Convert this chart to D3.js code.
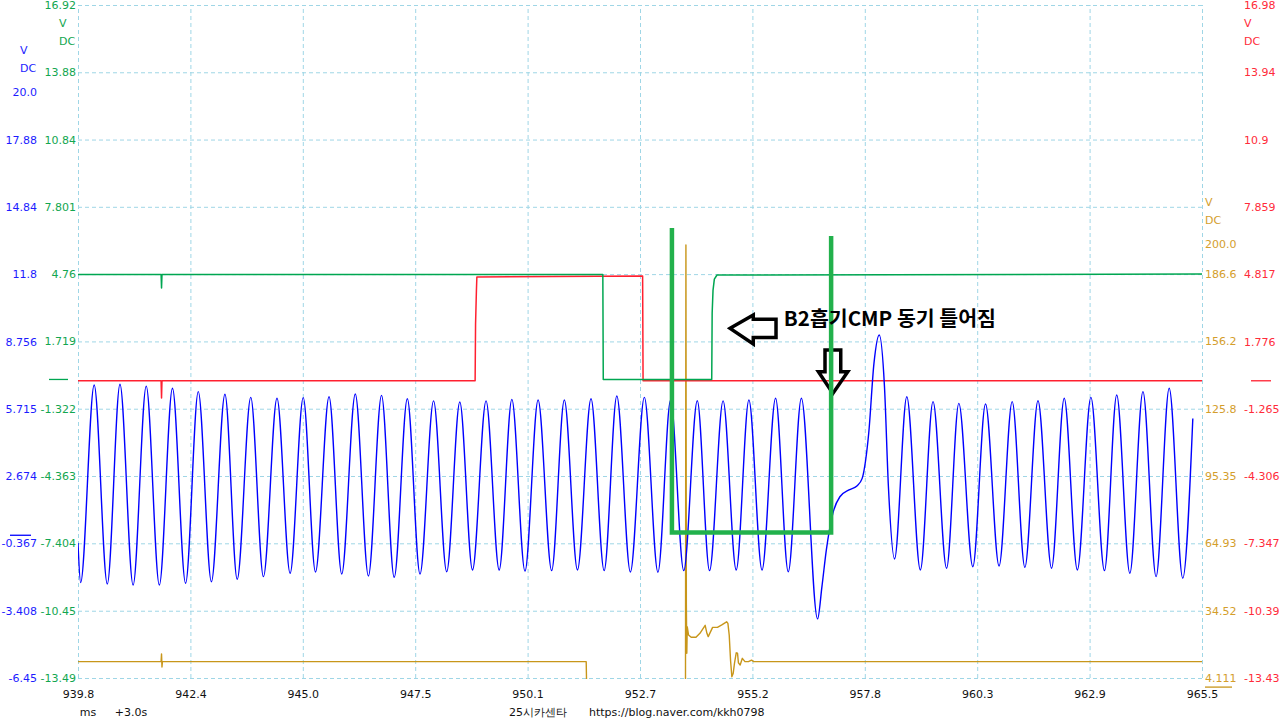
<!DOCTYPE html>
<html><head><meta charset="utf-8">
<script src="https://cdn.jsdelivr.net/npm/d3@7"></script>
<style>
html,body{margin:0;padding:0;background:#fff;}
svg{display:block;}
</style></head><body>
<svg id="c" width="1280" height="720"></svg>
<script>
// ---------------- data ----------------
const timeDomain = [939.8, 965.5];
const timeTicks = ["939.8","942.4","945.0","947.5","950.1","952.7","955.2","957.8","960.3","962.9","965.5"];

const blueDomain = [-6.45, 23.96];
const blueTicks = ["-6.45","-3.408","-0.367","2.674","5.715","8.756","11.8","14.84","17.88"];
const greenDomain = [-13.49, 16.92];
const greenTicks = ["-13.49","-10.45","-7.404","-4.363","-1.322","1.719","4.76","7.801","10.84","13.88","16.92"];
const redDomain = [-13.43, 16.98];
const redTicks = ["-13.43","-10.39","-7.347","-4.306","-1.265","1.776","4.817","7.859","10.9","13.94","16.98"];
const goldDomain = [4.111, 308.2];
const goldTicks = ["4.111","34.52","64.93","95.35","125.8","156.2","186.6"];

// blue channel (V) : time (ms) / value
const blueT = [939.80,939.86,940.17,940.47,940.76,941.06,941.36,941.66,941.96,942.26,942.55,942.85,943.16,943.44,943.75,944.04,944.35,944.65,944.95,945.23,945.54,945.83,946.14,946.44,946.74,947.03,947.33,947.62,947.93,948.23,948.53,948.82,949.13,949.43,949.72,950.02,950.32,950.63,950.92,951.22,951.53,951.83,952.12,952.43,952.75,953.06,953.35,953.65,953.96,954.24,954.55,954.85,955.14,955.44,955.75,956.04,956.34,956.71,956.81,956.91,957.06,957.22,957.43,957.61,957.73,957.81,957.88,958.00,958.12,958.24,958.33,958.47,958.75,959.06,959.35,959.66,959.94,960.26,960.55,960.86,961.16,961.45,961.75,962.06,962.35,962.65,962.96,963.27,963.55,963.85,964.15,964.45,964.75,965.06,965.29];
const blueV = [-0.35,-2.14,6.79,-2.20,6.82,-2.25,6.74,-2.25,6.64,-2.17,6.49,-2.10,6.37,-1.99,6.23,-1.87,6.19,-1.72,6.22,-1.66,6.26,-1.75,6.38,-1.84,6.32,-1.90,6.17,-1.75,6.07,-1.65,6.02,-1.57,6.07,-1.57,6.14,-1.62,6.11,-1.60,6.11,-1.57,6.17,-1.60,6.29,-1.66,6.23,-1.67,6.11,-1.60,6.08,-1.60,6.07,-1.57,6.11,-1.57,6.19,-1.65,6.19,-3.78,-2.32,-0.67,0.99,1.74,2.05,2.23,2.57,3.40,4.62,7.78,9.05,6.71,2.19,-1.07,6.26,-1.57,6.04,-1.49,5.96,-1.42,5.93,-1.39,6.04,-1.45,6.08,-1.49,6.19,-1.57,6.23,-1.60,6.34,-1.72,6.49,-1.87,6.64,-1.94,5.28];

// green channel (V)
const greenT = [939.80,941.70,941.71,941.72,951.80,951.81,954.29,954.30,954.32,954.35,954.41,965.50];
const greenV = [4.74,4.74,4.13,4.74,4.74,0.0,0.0,3.00,4.04,4.53,4.72,4.76];

// red channel (V)
const redT = [939.80,941.70,941.71,941.72,948.88,948.89,948.91,948.92,952.71,952.72,965.50];
const redV = [0.0,0.0,-0.78,0.0,0.0,2.57,4.10,4.69,4.73,0.0,0.0];

// gold channel (V)
const goldT = [939.80,941.70,941.71,941.72,941.73,951.42,951.43,953.69,953.70,953.71,953.72,953.73,953.76,953.82,953.93,954.02,954.14,954.18,954.21,954.31,954.42,954.52,954.63,954.66,954.69,954.72,954.75,954.78,954.81,954.85,954.88,954.90,954.94,954.99,955.05,955.13,955.20,955.25,965.50];
const goldV = [11.5,11.5,15.0,9.1,11.5,11.5,0.0,0.0,199.8,37.1,15.3,27.3,23.5,22.5,22.5,24.3,27.9,24.3,22.8,27.0,27.0,28.1,29.5,28.8,23.5,12.2,4.7,6.1,10.7,15.5,15.3,11.0,10.0,13.0,11.5,11.5,12.2,11.5,11.5];

// hand-drawn annotation (time ms / blue-axis V)
const bracketT = [953.38,953.38,957.02,957.02];
const bracketV = [13.88,0.12,0.12,13.52];
const leftArrowT = [954.71,955.24,955.24,955.76,955.76,955.24,955.24];
const leftArrowV = [9.35,9.95,9.76,9.76,8.94,8.94,8.64];
const downArrowT = [956.88,957.24,957.24,957.40,957.06,956.73,956.88];
const downArrowV = [8.37,8.37,7.39,7.39,6.41,7.39,7.39];
const noteText = "B2흡기CMP 동기 틀어짐";
const noteAt = [955.94, 9.46];

// ---------------- drawing ----------------
const L = 78, R = 1202, T = 5, B = 678;
const svg = d3.select("#c");
const FONT = "DejaVu Sans, sans-serif";
const C = {blue:"#1c1cff", green:"#12a650", red:"#ff2b3a", gold:"#d49e2c",
           blueL:"#0000ff", greenL:"#00a651", redL:"#ff2030", goldL:"#c8961a", grid:"#9fd6e6"};

const x = d3.scaleLinear().domain(timeDomain).range([L, R]);
const yBlue = d3.scaleLinear().domain(blueDomain).range([B, T]);
const yGreen = d3.scaleLinear().domain(greenDomain).range([B, T]);
const yRed = d3.scaleLinear().domain(redDomain).range([B, T]);
const yGold = d3.scaleLinear().domain(goldDomain).range([B, T]);

svg.append("rect").attr("width",1280).attr("height",720).attr("fill","#fff");

// grid
const xTickVals = timeTicks.map((d,i)=> timeDomain[0] + i*(timeDomain[1]-timeDomain[0])/(timeTicks.length-1));
const gx = svg.append("g").attr("transform",`translate(0,${B})`)
  .call(d3.axisBottom(x).tickValues(xTickVals).tickSize(-(B-T)).tickFormat(""));
gx.select(".domain").remove();
gx.selectAll("line").attr("stroke",C.grid).attr("stroke-dasharray","4,3");

const gy = svg.append("g").attr("transform",`translate(${L},0)`)
  .call(d3.axisLeft(yGreen).tickValues(greenTicks.map(Number)).tickSize(-(R-L)).tickFormat(""));
gy.select(".domain").remove();
gy.selectAll("line").attr("stroke",C.grid).attr("stroke-dasharray","4,3");

// axes labels
function styleAxis(g, color){
  g.select(".domain").remove();
  g.selectAll("line").remove();
  g.attr("font-family", FONT).attr("font-size", 11);
  g.selectAll("text").attr("fill", color);
}
styleAxis(svg.append("g").attr("transform","translate(40,0)")
  .call(d3.axisLeft(yBlue).tickValues(blueTicks.map(Number)).tickSize(0).tickPadding(3).tickFormat((d,i)=>blueTicks[i])), C.blue);
styleAxis(svg.append("g").attr("transform","translate(79,0)")
  .call(d3.axisLeft(yGreen).tickValues(greenTicks.map(Number)).tickSize(0).tickPadding(3).tickFormat((d,i)=>greenTicks[i])), C.green);
styleAxis(svg.append("g").attr("transform",`translate(${R},0)`)
  .call(d3.axisRight(yGold).tickValues(goldTicks.map(Number)).tickSize(0).tickPadding(3).tickFormat((d,i)=>goldTicks[i])), C.gold);
styleAxis(svg.append("g").attr("transform","translate(1241,0)")
  .call(d3.axisRight(yRed).tickValues(redTicks.map(Number)).tickSize(0).tickPadding(3).tickFormat((d,i)=>redTicks[i])), "#ff2b3a");
styleAxis(svg.append("g").attr("transform",`translate(0,${B})`)
  .call(d3.axisBottom(x).tickValues(xTickVals).tickSize(0).tickPadding(12).tickFormat((d,i)=>timeTicks[i])), "#111");

// unit labels
function label(txt, px, py, color, anchor){
  svg.append("text").attr("x",px).attr("y",py).attr("dy","0.35em").attr("text-anchor",anchor||"start")
    .attr("font-family",FONT).attr("font-size",11).attr("fill",color).text(txt);
}
label("V", 20, 50, C.blue); label("DC", 20, 68, C.blue); label("20.0", 37, 92, C.blue, "end");
label("V", 59, 23, C.green); label("DC", 59, 41, C.green);
label("V", 1244, 23, C.red); label("DC", 1244, 41, C.red);
label("V", 1205, 202, C.gold); label("DC", 1205, 220, C.gold); label("200.0", 1205, 244, C.gold);
label("ms", 88, 712, "#111", "middle");
label("+3.0s", 131, 712, "#111", "middle");
label("25시카센타", 538, 712, "#111", "middle");
label("https://blog.naver.com/kkh0798", 589, 712, "#111");

// zero markers
svg.append("line").attr("x1",10).attr("x2",31).attr("y1",yBlue(0)).attr("y2",yBlue(0)).attr("stroke",C.blueL).attr("stroke-width",1.3);
svg.append("line").attr("x1",49).attr("x2",68).attr("y1",yGreen(0)).attr("y2",yGreen(0)).attr("stroke",C.greenL).attr("stroke-width",1.3);
svg.append("line").attr("x1",1251).attr("x2",1271).attr("y1",yRed(0)).attr("y2",yRed(0)).attr("stroke",C.redL).attr("stroke-width",1.3);
svg.append("line").attr("x1",1205).attr("x2",1232).attr("y1",yGold(0)).attr("y2",yGold(0)).attr("stroke",C.goldL).attr("stroke-width",1.3);

// signals
svg.append("clipPath").attr("id","clip").append("rect").attr("x",L).attr("y",T).attr("width",R-L).attr("height",B-T+1);
const plot = svg.append("g").attr("clip-path","url(#clip)");
function drawSeries(ts, vs, ys, color, w, curve){
  const pts = ts.map((t,i)=>[t, vs[i]]);
  const line = d3.line().x(d=>x(d[0])).y(d=>ys(d[1])).curve(curve || d3.curveLinear);
  plot.append("path").datum(pts).attr("d", line).attr("fill","none").attr("stroke",color)
    .attr("stroke-width",w).attr("stroke-linejoin","round");
}
drawSeries(goldT, goldV, yGold, C.goldL, 1.4);
drawSeries(redT, redV, yRed, C.redL, 1.5);
drawSeries(greenT, greenV, yGreen, C.greenL, 1.5);
drawSeries(blueT, blueV, yBlue, C.blueL, 1.4, d3.curveMonotoneX);

// annotations
const ann = svg.append("g");
const aline = d3.line().x(d=>x(d[0])).y(d=>yBlue(d[1]));
ann.append("path").datum(leftArrowT.map((t,i)=>[t,leftArrowV[i]])).attr("d", d=>aline(d)+"Z")
  .attr("fill","none").attr("stroke","#000").attr("stroke-width",3.5).attr("stroke-linejoin","miter");
ann.append("path").datum(downArrowT.map((t,i)=>[t,downArrowV[i]])).attr("d", d=>aline(d)+"Z")
  .attr("fill","none").attr("stroke","#000").attr("stroke-width",3.5).attr("stroke-linejoin","miter");
ann.append("path").datum(bracketT.map((t,i)=>[t,bracketV[i]])).attr("d", aline)
  .attr("fill","none").attr("stroke","#22b14c").attr("stroke-width",4.5).attr("stroke-linejoin","miter");
ann.append("text").attr("x", x(noteAt[0])).attr("y", yBlue(noteAt[1]))
  .attr("font-family","Noto Sans CJK KR, sans-serif").attr("font-weight","bold").attr("font-size",20)
  .attr("textLength",212).attr("lengthAdjust","spacingAndGlyphs")
  .attr("fill","#000").text(noteText);
</script>
</body></html>
